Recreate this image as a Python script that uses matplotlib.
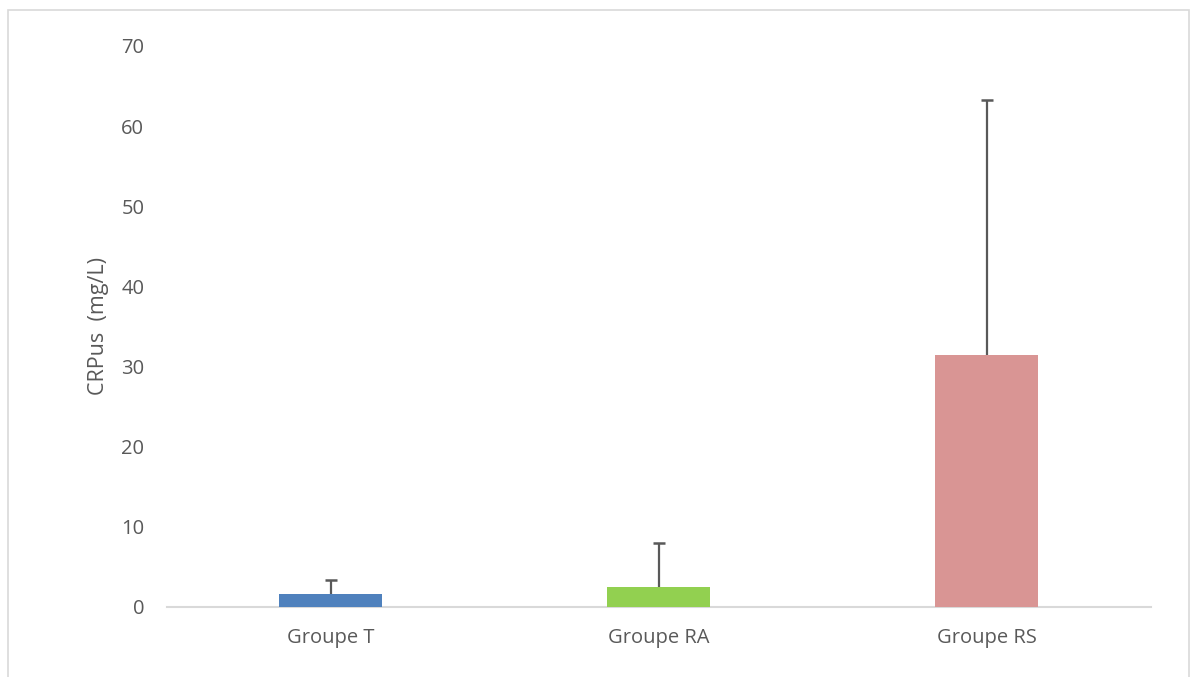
import numpy as np
import matplotlib.pyplot as plt
from matplotlib.patches import Rectangle

plt.rcParams['font.family'] = ['Open Sans', 'DejaVu Sans']

groups = ["Groupe T", "Groupe RA", "Groupe RS"]
means = [1.65, 2.55, 31.45]
sd = [1.7, 5.45, 31.85]
colors = ["#4f81bd", "#92d050", "#d99594"]
grey = "#595959"

fig = plt.figure(figsize=(11.92, 6.77), dpi=100)
ax = fig.add_axes([0.1397, 0.1034, 0.8255, 0.8287])

x = np.arange(len(groups))
top = np.array(means) + np.array(sd)
ax.bar(x, means, width=0.314, color=colors, zorder=2)
# upper error bars only
ax.vlines(x, means, top, color=grey, linewidth=1.6, zorder=3)
ax.plot(x, top, linestyle="none", marker="_", markersize=9,
        markeredgewidth=1.8, color=grey, zorder=3)

ax.set_xlim(-0.5, 2.5)
ax.set_ylim(0, 70)
ax.set_yticks(np.arange(0, 71, 10))
ax.set_xticks(x)
ax.set_xticklabels(groups)
ax.tick_params(axis="both", length=0, labelsize=14.5, colors=grey)
ax.tick_params(axis="y", pad=16)
ax.tick_params(axis="x", pad=15)
for s in ["top", "right", "left"]:
    ax.spines[s].set_visible(False)
ax.spines["bottom"].set_color("#d9d9d9")
ax.spines["bottom"].set_linewidth(1.5)
ax.spines["bottom"].set_zorder(1)

ax.set_ylabel("CRPus  (mg/L)", fontsize=15.5, color=grey, labelpad=9)

fig.add_artist(Rectangle((8 / 1192, -0.1), (1189 - 8) / 1192, 1.1 - 10 / 677,
                         transform=fig.transFigure, fill=False,
                         edgecolor="#d9d9d9", linewidth=1.2))

fig.savefig("out.png", dpi=100)
